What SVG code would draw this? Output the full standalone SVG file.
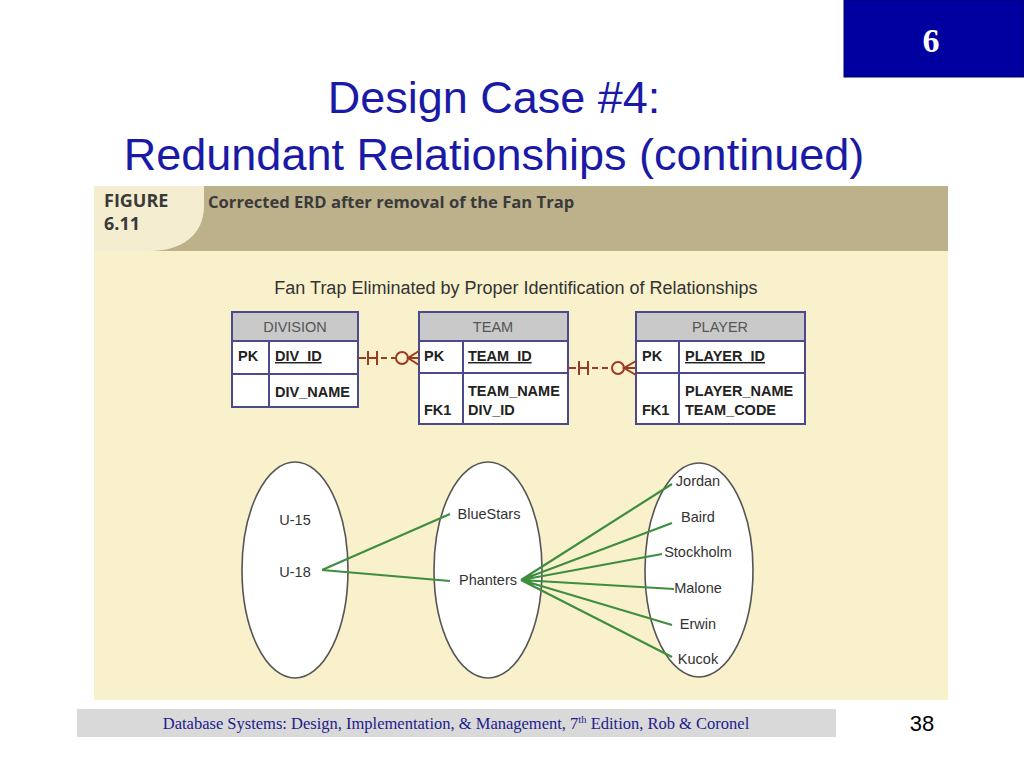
<svg xmlns="http://www.w3.org/2000/svg" width="1024" height="768" viewBox="0 0 1024 768">
<style>
.title{font-family:"Liberation Sans",Arial,sans-serif;font-size:45px;fill:#1a1aa6;text-anchor:middle}
.cap{font-family:"Open Sans","Liberation Sans",sans-serif;font-weight:bold;fill:#3a3a3a}
.sub{font-family:"Liberation Sans",Arial,sans-serif;font-size:18px;fill:#333}
.tbl{fill:#fff;stroke:#4a4a8c;stroke-width:2}
.hdr{fill:#c9c9c9;stroke:#4a4a8c;stroke-width:2}
.ln{stroke:#4a4a8c;stroke-width:2;fill:none}
.th{font-family:"Liberation Sans",Arial,sans-serif;font-size:14.5px;fill:#555;text-anchor:middle}
.tf{font-family:"Liberation Sans",Arial,sans-serif;font-size:14.5px;font-weight:bold;fill:#222}
.rel{stroke:#9a3a20;stroke-width:2;fill:none}
.dash{stroke-dasharray:6,4}
.ell{fill:#fff;stroke:#555;stroke-width:1.6}
.el{font-family:"Liberation Sans",Arial,sans-serif;font-size:14.5px;fill:#333}
.gl{stroke:#3e8e3e;stroke-width:2.2;fill:none}
</style>
<rect x="0" y="0" width="1024" height="768" fill="#fff"/>
<g id="slide-number">
<rect x="844" y="0" width="180" height="77" fill="#0000a0" stroke="#000060" stroke-width="1"/>
<text x="931" y="52" font-family="Liberation Serif,serif" font-size="34" font-weight="bold" fill="#fff" text-anchor="middle">6</text>
</g>
<g id="title">
<text class="title" x="494" y="113">Design Case #4:</text>
<text class="title" x="494" y="170">Redundant Relationships (continued)</text>
</g>
<g id="figure">
<rect x="94" y="186" width="854" height="514" fill="#f8f1cc"/>
<rect x="94" y="186" width="854" height="65" fill="#bdb18c"/>
<path d="M94,186 H204 V206 C204,236 180,251 150,251 H94 Z" fill="#f4edcf"/>
<text class="cap" x="104" y="207" font-size="18">FIGURE</text>
<text class="cap" x="104" y="230" font-size="18">6.11</text>
<text class="cap" x="208" y="208" font-size="16.6" fill="#333">Corrected ERD after removal of the Fan Trap</text>
<text class="sub" x="516" y="294" text-anchor="middle">Fan Trap Eliminated by Proper Identification of Relationships</text>
</g>
<g id="division">
<rect class="tbl" x="232" y="312" width="126" height="95"/>
<rect class="hdr" x="232" y="312" width="126" height="29"/>
<line class="ln" x1="232" y1="374" x2="358" y2="374"/>
<line class="ln" x1="269" y1="341" x2="269" y2="407"/>
<text class="th" x="295" y="332">DIVISION</text>
<text class="tf" x="238" y="361">PK</text>
<text class="tf" x="275" y="361" text-decoration="underline">DIV_ID</text>
<text class="tf" x="275" y="397">DIV_NAME</text>
</g>
<g id="team">
<rect class="tbl" x="419" y="312" width="149" height="112"/>
<rect class="hdr" x="419" y="312" width="149" height="29"/>
<line class="ln" x1="419" y1="373" x2="568" y2="373"/>
<line class="ln" x1="463" y1="341" x2="463" y2="424"/>
<text class="th" x="493" y="332">TEAM</text>
<text class="tf" x="424" y="361">PK</text>
<text class="tf" x="468" y="361" text-decoration="underline">TEAM_ID</text>
<text class="tf" x="468" y="396">TEAM_NAME</text>
<text class="tf" x="424" y="415">FK1</text>
<text class="tf" x="468" y="415">DIV_ID</text>
</g>
<g id="player">
<rect class="tbl" x="636" y="312" width="169" height="112"/>
<rect class="hdr" x="636" y="312" width="169" height="29"/>
<line class="ln" x1="636" y1="373" x2="805" y2="373"/>
<line class="ln" x1="679" y1="341" x2="679" y2="424"/>
<text class="th" x="720" y="332">PLAYER</text>
<text class="tf" x="642" y="361">PK</text>
<text class="tf" x="685" y="361" text-decoration="underline">PLAYER_ID</text>
<text class="tf" x="685" y="396">PLAYER_NAME</text>
<text class="tf" x="642" y="415">FK1</text>
<text class="tf" x="685" y="415">TEAM_CODE</text>
</g>
<g id="connectors">
<g id="rel-division-team">
<line class="rel" x1="358" y1="358" x2="366" y2="358"/>
<line class="rel" x1="368" y1="351" x2="368" y2="365"/>
<line class="rel" x1="368" y1="358" x2="377" y2="358"/>
<line class="rel" x1="377" y1="351" x2="377" y2="365"/>
<line class="rel dash" x1="381" y1="358" x2="396" y2="358"/>
<circle class="rel" cx="402" cy="358" r="6"/>
<path class="rel" d="M419,351 L408,358 L419,365 M408,358 H419"/>
</g>
<g id="rel-team-player">
<line class="rel" x1="568" y1="368" x2="576" y2="368"/>
<line class="rel" x1="579" y1="361" x2="579" y2="375"/>
<line class="rel" x1="579" y1="368" x2="588" y2="368"/>
<line class="rel" x1="588" y1="361" x2="588" y2="375"/>
<line class="rel dash" x1="592" y1="368" x2="612" y2="368"/>
<circle class="rel" cx="618" cy="368" r="6"/>
<path class="rel" d="M636,361 L624,368 L636,375 M624,368 H636"/>
</g>
</g>
<g id="set-divisions">
<ellipse class="ell" cx="295" cy="570" rx="53" ry="108"/>
<text class="el" x="295" y="525" text-anchor="middle">U-15</text>
<text class="el" x="295" y="577" text-anchor="middle">U-18</text>
</g>
<g id="set-teams">
<ellipse class="ell" cx="488" cy="570" rx="54" ry="108"/>
<text class="el" x="489" y="519" text-anchor="middle">BlueStars</text>
<text class="el" x="488" y="585" text-anchor="middle">Phanters</text>
</g>
<g id="set-players">
<ellipse class="ell" cx="699" cy="570" rx="54" ry="107"/>
<text class="el" x="698" y="486" text-anchor="middle">Jordan</text>
<text class="el" x="698" y="522" text-anchor="middle">Baird</text>
<text class="el" x="698" y="557" text-anchor="middle">Stockholm</text>
<text class="el" x="698" y="593" text-anchor="middle">Malone</text>
<text class="el" x="698" y="629" text-anchor="middle">Erwin</text>
<text class="el" x="698" y="664" text-anchor="middle">Kucok</text>
</g>
<g id="mapping-lines">
<path class="gl" d="M322,570 L450,514 M322,570 L450,581"/>
<path class="gl" d="M521,580 L672,484 M521,580 L672,523 M521,580 L662,554 M521,580 L674,589 M521,580 L672,625 M521,580 L672,657"/>
</g>
<g id="footer">
<rect x="77" y="709" width="759" height="28" fill="#d9d9d9"/>
<text x="456" y="729" font-family="Liberation Serif,serif" font-size="16.5" fill="#1c1c8c" text-anchor="middle">Database Systems: Design, Implementation, &amp; Management, 7<tspan font-size="10.5" dy="-6">th</tspan><tspan dy="6"> Edition, Rob &amp; Coronel</tspan></text>
<text x="922" y="731" font-family="Liberation Sans,Arial,sans-serif" font-size="22" fill="#000" text-anchor="middle">38</text>
</g>
</svg>
